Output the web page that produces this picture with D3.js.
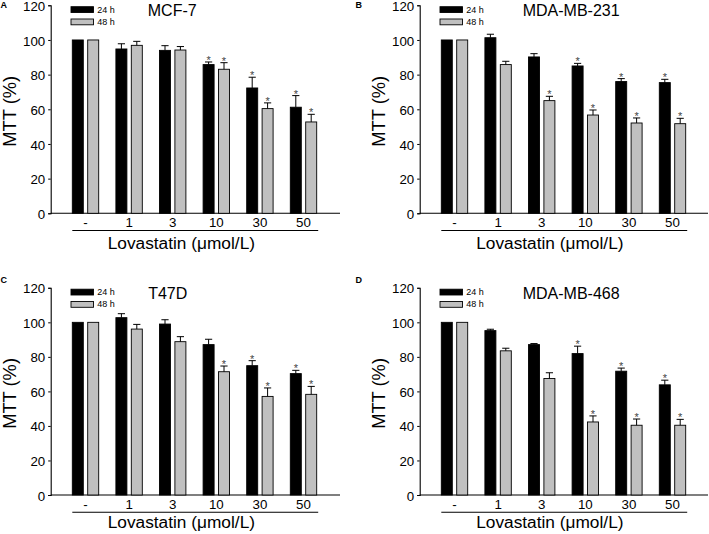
<!DOCTYPE html>
<html><head><meta charset="utf-8">
<script src="https://cdn.jsdelivr.net/npm/d3@7"></script>
<style>body{margin:0;background:#fff}svg{display:block}text{font-family:"Liberation Sans",Arial,sans-serif}</style>
</head><body>
<svg id="c" width="709" height="534"></svg>
<script>
const categories = ["-", "1", "3", "10", "30", "50"];
const seriesNames = ["24 h", "48 h"];
const yTicks = [0, 20, 40, 60, 80, 100, 120];
const xTitle = "Lovastatin (\u03bcmol/L)";
const yTitle = "MTT (%)";

// Panel A: MCF-7
const mcf7_24 = [100, 94.8, 94.0, 85.8, 72.3, 61.2];
const mcf7_24_se = [0, 3.0, 2.7, 1.5, 6.2, 6.7];
const mcf7_48 = [100, 96.9, 94.2, 83.1, 60.4, 52.7];
const mcf7_48_se = [0, 2.3, 2.0, 3.8, 3.3, 4.4];
const mcf7_24_sig = [0, 0, 0, 1, 1, 1];
const mcf7_48_sig = [0, 0, 0, 1, 1, 1];

// Panel B: MDA-MB-231
const mb231_24 = [100, 101.3, 90.2, 85.0, 76.0, 75.4];
const mb231_24_se = [0, 2.0, 1.9, 1.5, 1.7, 1.9];
const mb231_48 = [100, 85.8, 65.0, 56.7, 52.1, 51.7];
const mb231_48_se = [0, 1.9, 2.5, 2.9, 2.9, 3.1];
const mb231_24_sig = [0, 0, 0, 1, 1, 1];
const mb231_48_sig = [0, 0, 1, 1, 1, 1];

// Panel C: T47D
const t47d_24 = [100, 102.7, 99.0, 87.1, 74.9, 70.3];
const t47d_24_se = [0, 2.3, 2.5, 3.1, 2.9, 1.9];
const t47d_48 = [100, 96.1, 88.8, 71.4, 57.1, 58.3];
const t47d_48_se = [0, 2.7, 2.9, 3.3, 4.9, 4.6];
const t47d_24_sig = [0, 0, 0, 0, 1, 1];
const t47d_48_sig = [0, 0, 0, 1, 1, 1];

// Panel D: MDA-MB-468
const mb468_24 = [100, 95.2, 87.1, 81.9, 71.7, 63.8];
const mb468_24_se = [0, 0.8, 0.6, 4.3, 1.8, 2.7];
const mb468_48 = [100, 83.5, 67.5, 42.3, 40.4, 40.4];
const mb468_48_se = [0, 1.5, 3.3, 3.5, 3.6, 3.4];
const mb468_24_sig = [0, 0, 0, 1, 1, 1];
const mb468_48_sig = [0, 0, 0, 1, 1, 1];

const panels = [
  {letter:"A", title:"MCF-7", s:[[mcf7_24,mcf7_24_se,mcf7_24_sig],[mcf7_48,mcf7_48_se,mcf7_48_sig]], left:50.7, right:340, bottom:213.3, top:5.3, lab:35.2, lx:0.5, ly:8.3},
  {letter:"B", title:"MDA-MB-231", s:[[mb231_24,mb231_24_se,mb231_24_sig],[mb231_48,mb231_48_se,mb231_48_sig]], left:419.7, right:708, bottom:213.3, top:5.3, lab:35.2, lx:355.5, ly:8.3},
  {letter:"C", title:"T47D", s:[[t47d_24,t47d_24_se,t47d_24_sig],[t47d_48,t47d_48_se,t47d_48_sig]], left:50.7, right:340, bottom:495, top:287.8, lab:33, lx:0.5, ly:283},
  {letter:"D", title:"MDA-MB-468", s:[[mb468_24,mb468_24_se,mb468_24_sig],[mb468_48,mb468_48_se,mb468_48_sig]], left:419.7, right:708, bottom:495, top:287.8, lab:33, lx:355.5, ly:283}
];
const fills = ["#000000", "#c0c0c0"];
const svg = d3.select("#c");

panels.forEach(p => {
  const g = svg.append("g");
  const y = d3.scaleLinear().domain([0,120]).range([p.bottom, p.top]);
  const x = d3.scaleBand().domain(categories).range([p.left+13, p.left+274.6]).padding(0);
  const bw = 11, off = 7.7;
  // y axis
  const ya = g.append("g").attr("transform",`translate(${p.left},0)`)
    .call(d3.axisLeft(y).tickValues(yTicks).tickSize(2.5).tickPadding(3));
  ya.select(".domain").attr("stroke","#000").attr("stroke-width",1.1);
  ya.selectAll(".tick line").attr("stroke","#000");
  ya.selectAll(".tick text").attr("font-size","13.3px").attr("fill","#000").attr("dy","0.38em").style("font-family","Liberation Sans, Arial, sans-serif");
  // x axis line (no ticks)
  const xa = g.append("g").attr("transform",`translate(0,${p.bottom})`)
    .call(d3.axisBottom(x).tickSize(0).tickPadding(0));
  xa.select(".domain").attr("d",`M${p.left},0H${p.right}`).attr("stroke","#000").attr("stroke-width",1.1);
  xa.selectAll(".tick text").attr("font-size","13.3px").attr("fill","#000").attr("dy",null).attr("y",14).style("font-family","Liberation Sans, Arial, sans-serif");
  // underline
  g.append("line").attr("x1",x(categories[0])+x.bandwidth()/2-off-bw/2).attr("x2",x(categories[5])+x.bandwidth()/2+off+bw/2+1.5)
    .attr("y1",p.bottom+17.2).attr("y2",p.bottom+17.2).attr("stroke","#000").attr("stroke-width",1.1);
  g.append("text").attr("x",(p.left+p.right)/2-14).attr("y",p.bottom+p.lab).attr("text-anchor","middle")
    .attr("font-size","17.3px").text(xTitle);
  // y title
  g.append("text").attr("transform",`translate(${p.left-41},${(p.top+p.bottom)/2+2}) rotate(-90)`)
    .attr("text-anchor","middle").attr("dy","0.35em").attr("font-size","18.3px").text(yTitle);
  // bars
  p.s.forEach((ser, si) => {
    const [vals, se, sig] = ser;
    const cx = c => x(c) + x.bandwidth()/2 + (si===0 ? -off : off);
    g.selectAll(null).data(categories).enter().append("rect")
      .attr("x", c => cx(c)-bw/2).attr("width", bw)
      .attr("y", (c,i) => y(vals[i])).attr("height", (c,i) => y(0)-y(vals[i]))
      .attr("fill", fills[si]).attr("stroke","#000").attr("stroke-width",0.9);
    categories.forEach((c,i) => {
      if (se[i] > 0) {
        g.append("line").attr("x1",cx(c)).attr("x2",cx(c)).attr("y1",y(vals[i])).attr("y2",y(vals[i]+se[i])).attr("stroke","#000").attr("stroke-width",1);
        g.append("line").attr("x1",cx(c)-3.6).attr("x2",cx(c)+3.6).attr("y1",y(vals[i]+se[i])).attr("y2",y(vals[i]+se[i])).attr("stroke","#000").attr("stroke-width",1);
      }
      if (sig[i]) {
        g.append("text").attr("x",cx(c)).attr("y",y(vals[i]+se[i])+2).attr("text-anchor","middle")
          .attr("font-size","11px").attr("fill","#444").text("*");
      }
    });
  });
  // legend
  seriesNames.forEach((n, si) => {
    const ly = p.top + 1.4 + si*12.3;
    g.append("rect").attr("x",p.left+20.3).attr("y",ly).attr("width",22.5).attr("height",5.8)
      .attr("fill",fills[si]).attr("stroke","#000").attr("stroke-width",0.9);
    g.append("text").attr("x",p.left+46.5).attr("y",ly+5.9).attr("font-size","9px").text(n);
  });
  // title
  g.append("text").attr("x", p.left + (p.letter==="A"||p.letter==="C" ? 121.5 : 151.5) - (p.letter==="C"?4.5:0)).attr("y", p.top+11)
    .attr("text-anchor","middle").attr("font-size","16px").text(p.title);
  // letter
  g.append("text").attr("x",p.lx).attr("y",p.ly).attr("font-size","9px").attr("font-weight","bold").text(p.letter);
});
</script>
</body></html>
